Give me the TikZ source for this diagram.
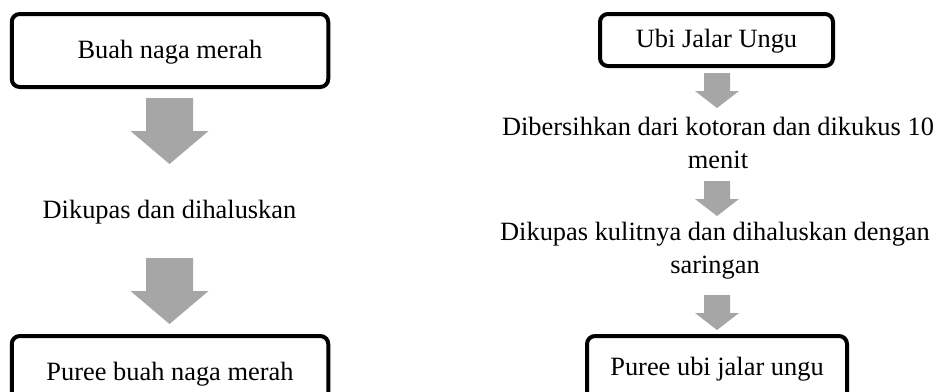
\documentclass[tikz,border=0pt]{standalone}
\usepackage{fontspec}
\setmainfont{Liberation Serif}
\usetikzlibrary{calc}
\definecolor{arrowgray}{RGB}{166,166,166}
\begin{document}
\begin{tikzpicture}[x=1pt,y=-1pt,
  box/.style={draw=black, line width=4pt, rounded corners=8pt, inner sep=0pt,
    font=\fontsize{26.4}{33}\selectfont, text height=20pt, text depth=5pt},
  lbl/.style={inner sep=0pt, anchor=base, font=\fontsize{26.4}{33}\selectfont},
  blockarrow/.style={fill=arrowgray, draw=none}]
\useasboundingbox (0,0) rectangle (936,391);
\clip (0,0) rectangle (936,391);
% left column
\node[box, minimum width=316.5pt, minimum height=73pt] (a1) at (170,50.5) {Buah naga merah};
\node[lbl] (a2) at (169.5,218) {Dikupas dan dihaluskan};
\node[box, minimum width=316.5pt, minimum height=74pt] (a3) at (170,373) {Puree buah naga merah};
% right column
\node[box, minimum width=233pt, minimum height=52pt] (b1) at (716.5,40) {Ubi Jalar Ungu};
\node[lbl] (b2) at (718,135) {Dibersihkan dari kotoran dan dikukus 10};
\node[lbl] (b2b) at (718,168.5) {menit};
\node[lbl] (b3) at (715,240) {Dikupas kulitnya dan dihaluskan dengan};
\node[lbl] (b3b) at (715,273.5) {saringan};
\node[box, minimum width=260pt, minimum height=64pt] (b4) at (717,368) {Puree ubi jalar ungu};
% block arrows (left)
\coordinate (la1) at (169.5,98);
\coordinate (la2) at (169.5,258);
\foreach \c in {la1, la2}{
  \fill[blockarrow] ($(\c)+(-23.5,0)$) -- ($(\c)+(23.5,0)$) -- ($(\c)+(23.5,33)$)
    -- ($(\c)+(39,33)$) -- ($(\c)+(0,66)$) -- ($(\c)+(-39,33)$) -- ($(\c)+(-23.5,33)$) -- cycle;
}
% block arrows (right)
\coordinate (ra1) at (717,73);
\coordinate (ra2) at (717,181);
\coordinate (ra3) at (717,295);
\foreach \c in {ra1, ra2, ra3}{
  \fill[blockarrow] ($(\c)+(-13,0)$) -- ($(\c)+(13,0)$) -- ($(\c)+(13,18)$)
    -- ($(\c)+(22,18)$) -- ($(\c)+(0,35)$) -- ($(\c)+(-22,18)$) -- ($(\c)+(-13,18)$) -- cycle;
}
\end{tikzpicture}
\end{document}
